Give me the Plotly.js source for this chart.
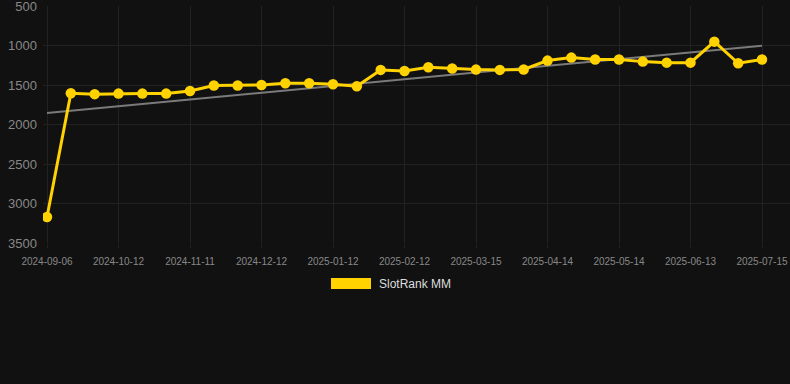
<!DOCTYPE html>
<html>
<head>
<meta charset="utf-8">
<script src="https://cdn.plot.ly/plotly-3.0.1.min.js"></script>
<style>html,body{margin:0;padding:0;background:#111111;}#chart{width:790px;height:384px;}</style>
</head>
<body>
<div id="chart"></div>
<script>
const dates = ["2024-09-06","2024-09-18","2024-09-30","2024-10-12","2024-10-22","2024-11-01","2024-11-11","2024-11-21","2024-12-02","2024-12-12","2024-12-22","2025-01-02","2025-01-12","2025-01-22","2025-02-02","2025-02-12","2025-02-22","2025-03-05","2025-03-15","2025-03-25","2025-04-04","2025-04-14","2025-04-24","2025-05-04","2025-05-14","2025-05-24","2025-06-03","2025-06-13","2025-06-23","2025-07-04","2025-07-15"];
const rankMM = [3170,1604,1616,1609,1609,1609,1575,1507,1507,1500,1477,1477,1490,1515,1309,1322,1275,1292,1305,1309,1303,1191,1153,1178,1178,1204,1217,1217,951,1225,1178];
const trendEnds = [1853,1002];
const tickLabels = ["2024-09-06","2024-10-12","2024-11-11","2024-12-12","2025-01-12","2025-02-12","2025-03-15","2025-04-14","2025-05-14","2025-06-13","2025-07-15"];
const yTicks = [500,1000,1500,2000,2500,3000,3500];
const seriesName = "SlotRank MM";

const yellow = "#ffd200";
const grid = "#222222";
const W = 747, H = 237, L = 43, T = 6;

const traces = [
  {x:[dates[0], dates[dates.length-1]], y:trendEnds, type:"scatter", mode:"lines",
   line:{color:"#7a7a7a", width:2}, hoverinfo:"skip", showlegend:false},
  {x:dates, y:rankMM, type:"scatter", mode:"lines+markers", name:seriesName,
   line:{color:yellow, width:3}, marker:{color:yellow, size:10.5}, showlegend:false}
];

const layout = {
  width:790, height:384,
  paper_bgcolor:"#111111", plot_bgcolor:"#111111",
  margin:{l:L, r:0, t:T, b:384-T-H},
  font:{family:"Liberation Sans, Arial, sans-serif", color:"#888888"},
  xaxis:{type:"category", categoryorder:"array", categoryarray:dates,
    range:[-0.168, 31.175], tickvals:tickLabels, ticktext:tickLabels,
    tickangle:0,
    showgrid:true, gridcolor:grid, gridwidth:1, zeroline:false, showline:false,
    ticks:"outside", ticklen:4, tickcolor:grid, ticklabelstandoff:5,
    tickfont:{family:"Liberation Sans, Arial, sans-serif", size:10, color:"#888888"}},
  yaxis:{range:[3500,500], tickvals:yTicks, ticktext:yTicks.map(String),
    showgrid:true, gridcolor:grid, gridwidth:1, zeroline:false, showline:false,
    ticks:"", ticklabelstandoff:5, ticklabeloverflow:"allow",
    tickfont:{family:"Liberation Sans, Arial, sans-serif", size:13, color:"#888888"}},
  showlegend:false,
  shapes:[{type:"rect", xref:"paper", yref:"paper",
    x0:(331-L)/W, x1:(371-L)/W, y0:(T+H-289)/H, y1:(T+H-278)/H,
    fillcolor:yellow, line:{width:0}}],
  annotations:[{text:seriesName, xref:"paper", yref:"paper",
    x:(377-L)/W, y:(T+H-284)/H, xanchor:"left", yanchor:"middle",
    showarrow:false, font:{family:"Liberation Sans, Arial, sans-serif", size:12, color:"#dddddd"}}]
};

Plotly.newPlot("chart", traces, layout, {displayModeBar:false, staticPlot:true});
</script>
</body>
</html>
